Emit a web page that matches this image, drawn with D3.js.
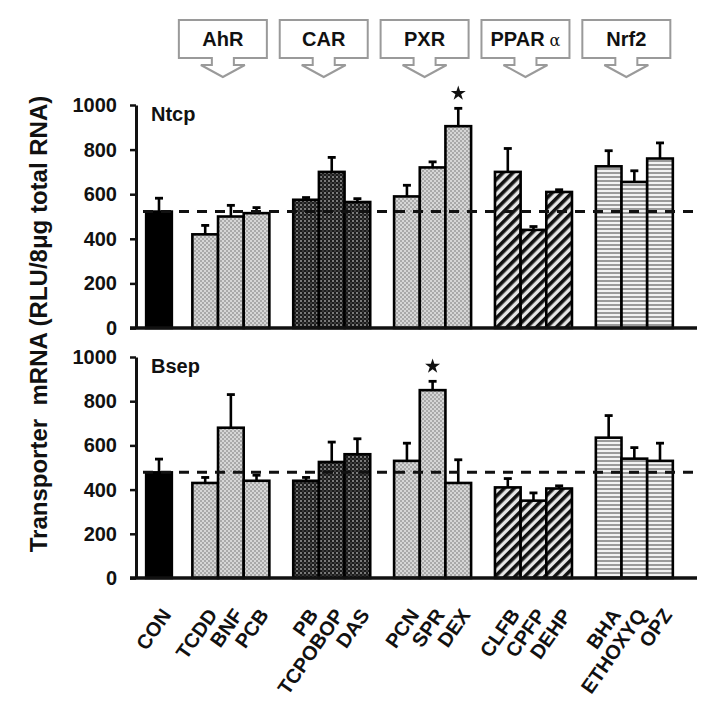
<!DOCTYPE html>
<html>
<head>
<meta charset="utf-8">
<script src="https://cdn.jsdelivr.net/npm/d3@7"></script>
<style>
  html, body { margin: 0; padding: 0; background: #fff; }
  svg { display: block; font-family: Arial, "Liberation Sans", sans-serif; }
</style>
</head>
<body>
<svg id="chart" width="721" height="716"></svg>
<script>
// ---------------- DATA ----------------
const categories = ["CON","TCDD","BNF","PCB","PB","TCPOBOP","DAS","PCN","SPR","DEX","CLFB","CPFP","DEHP","BHA","ETHOXYQ","OPZ"];
const groupOf    = [0,1,1,1,2,2,2,3,3,3,4,4,4,5,5,5];
const indexInGroup = [0,0,1,2,0,1,2,0,1,2,0,1,2,0,1,2];
const receptorLabels = ["AhR","CAR","PXR","PPAR","Nrf2"];
const receptorSuffix = ["","","","α",""];

const ntcpMean = [522,420,500,515,575,700,565,590,720,905,700,440,610,725,655,760];
const ntcpErr  = [ 60, 40, 50, 25, 10, 65, 15, 50, 25, 80,105, 15, 10, 70, 50, 70];
const bsepMean = [478,430,680,440,440,525,560,530,850,430,410,350,405,635,540,530];
const bsepErr  = [ 60, 25,150, 25, 15, 90, 70, 80, 40,105, 40, 35, 12,100, 50, 80];
const ntcpStars = ["DEX"];
const bsepStars = ["SPR"];
const yTicks = [0,200,400,600,800,1000];

// ---------------- LAYOUT ----------------
const svg = d3.select("#chart");
const axisX = 136;
const groupStart = 1.8, groupStep = 3.93;
const unitPos = categories.map((c,i) => groupOf[i] === 0 ? 0 : groupStart + (groupOf[i]-1)*groupStep + indexInGroup[i]);
const x = d3.scaleLinear().domain([0, d3.max(unitPos)]).range([159, 660]);
const barW = x(1) - x(0);

const defs = svg.append("defs");
// light checker (AhR, PXR)
const pl = defs.append("pattern").attr("id","pLight").attr("patternUnits","userSpaceOnUse").attr("width",4).attr("height",4);
pl.append("rect").attr("width",4).attr("height",4).attr("fill","#d6d6d6");
pl.append("rect").attr("width",2).attr("height",2).attr("fill","#a9a9a9");
pl.append("rect").attr("x",2).attr("y",2).attr("width",2).attr("height",2).attr("fill","#a9a9a9");
// dark checker (CAR)
const pd = defs.append("pattern").attr("id","pDark").attr("patternUnits","userSpaceOnUse").attr("width",4).attr("height",4);
pd.append("rect").attr("width",4).attr("height",4).attr("fill","#1c1c1c");
pd.append("rect").attr("width",2).attr("height",2).attr("fill","#7a7a7a");
pd.append("rect").attr("x",2).attr("y",2).attr("width",2).attr("height",2).attr("fill","#3a3a3a");
// diagonal stripes (PPARa)
const pg = defs.append("pattern").attr("id","pDiag").attr("patternUnits","userSpaceOnUse").attr("width",7).attr("height",7).attr("patternTransform","rotate(45)");
pg.append("rect").attr("width",7).attr("height",7).attr("fill","#e6e6e6");
pg.append("rect").attr("width",3.6).attr("height",7).attr("fill","#111");
// horizontal lines (Nrf2)
const ph = defs.append("pattern").attr("id","pHoriz").attr("patternUnits","userSpaceOnUse").attr("width",4).attr("height",4);
ph.append("rect").attr("width",4).attr("height",4).attr("fill","#f2f2f2");
ph.append("rect").attr("width",4).attr("height",2).attr("fill","#9a9a9a");

const fills = ["#000","url(#pLight)","url(#pDark)","url(#pLight)","url(#pDiag)","url(#pHoriz)"];

function panel(mean, err, stars, y0, y1, label) {
  const y = d3.scaleLinear().domain([0,1000]).range([y0, y1]);
  const g = svg.append("g");
  // bars
  g.selectAll("rect.bar").data(categories).join("rect")
    .attr("class","bar")
    .attr("x",(d,i) => x(unitPos[i]) - barW/2)
    .attr("width", barW)
    .attr("y",(d,i) => y(mean[i]))
    .attr("height",(d,i) => y(0) - y(mean[i]))
    .attr("fill",(d,i) => fills[groupOf[i]])
    .attr("stroke","#000").attr("stroke-width",2.6);
  // error bars
  g.selectAll("line.err").data(categories).join("line")
    .attr("x1",(d,i)=>x(unitPos[i])).attr("x2",(d,i)=>x(unitPos[i]))
    .attr("y1",(d,i)=>y(mean[i])).attr("y2",(d,i)=>y(mean[i]+err[i]))
    .attr("stroke","#000").attr("stroke-width",2.6);
  g.selectAll("line.cap").data(categories).join("line")
    .attr("x1",(d,i)=>x(unitPos[i])-4).attr("x2",(d,i)=>x(unitPos[i])+4)
    .attr("y1",(d,i)=>y(mean[i]+err[i])).attr("y2",(d,i)=>y(mean[i]+err[i]))
    .attr("stroke","#000").attr("stroke-width",2.8);
  // dashed control line
  g.append("line")
    .attr("x1", 143).attr("x2", 694)
    .attr("y1", y(mean[0])).attr("y2", y(mean[0]))
    .attr("stroke","#111").attr("stroke-width",3).attr("stroke-dasharray","10,8");
  // stars
  stars.forEach(s => {
    const i = categories.indexOf(s);
    g.append("path")
      .attr("d", d3.symbol(d3.symbolStar, 70)())
      .attr("transform",`translate(${x(unitPos[i])},${y(mean[i]+err[i]) - 15})`)
      .attr("fill","#111");
  });
  // y axis
  const ax = g.append("g").attr("transform",`translate(${axisX},0)`)
    .call(d3.axisLeft(y).tickValues(yTicks).tickFormat(d3.format("d")).tickSize(6).tickSizeOuter(0).tickPadding(13));
  ax.select(".domain").attr("stroke","#111").attr("stroke-width",3);
  ax.selectAll(".tick line").attr("stroke","#111").attr("stroke-width",2.5);
  ax.selectAll(".tick text").attr("font-size",20).attr("font-weight","bold").attr("fill","#111")
    .attr("font-family","Arial, 'Liberation Sans', sans-serif");
  // baseline
  g.append("line").attr("x1",130).attr("x2",697).attr("y1",y(0)).attr("y2",y(0))
    .attr("stroke","#111").attr("stroke-width",3.5);
  // panel label
  g.append("text").attr("x", axisX + 15).attr("y", y(1000) + 16)
    .attr("font-size",20).attr("font-weight","bold").attr("fill","#111").text(label);
  return y;
}

panel(ntcpMean, ntcpErr, ntcpStars, 328, 105, "Ntcp");
const yB = panel(bsepMean, bsepErr, bsepStars, 578, 357, "Bsep");

// x labels
svg.append("g").selectAll("text").data(categories).join("text")
  .attr("transform",(d,i)=>`translate(${x(unitPos[i]) + 13},${yB(0) + 37}) rotate(-55)`)
  .attr("text-anchor","end")
  .attr("font-size",20).attr("font-weight","bold").attr("fill","#111")
  .text(d=>d);

// y axis title
svg.append("text")
  .attr("transform","translate(47,324) rotate(-90)")
  .attr("text-anchor","middle")
  .attr("font-size",24).attr("font-weight","bold").attr("fill","#111")
  .attr("xml:space","preserve")
  .text("Transporter  mRNA (RLU/8μg total RNA)");

// receptor header callouts
const headerG = svg.append("g");
receptorLabels.forEach((lab, k) => {
  const members = categories.filter((c,i)=>groupOf[i]===k+1).map(c=>unitPos[categories.indexOf(c)]);
  const cx = x(d3.mean(members)) - 8;
  const hw = 44, top = 20, bot = 58;
  const path = `M${cx-hw},${top} H${cx+hw} V${bot} H${cx+11} V${bot+7} H${cx+22} L${cx},${bot+19} L${cx-22},${bot+7} H${cx-11} V${bot} H${cx-hw} Z`;
  headerG.append("path").attr("d",path).attr("fill","#fff").attr("stroke","#9a9a9a").attr("stroke-width",2);
  const t = headerG.append("text").attr("x",cx).attr("y",46).attr("text-anchor","middle")
    .attr("font-size",20).attr("font-weight","bold").attr("fill","#111");
  t.append("tspan").text(lab);
  if (receptorSuffix[k]) {
    t.append("tspan").attr("font-family","'DejaVu Serif', serif").attr("font-weight","normal")
      .attr("font-size",16).attr("dx",5).text(receptorSuffix[k]);
  }
});
</script>
</body>
</html>
